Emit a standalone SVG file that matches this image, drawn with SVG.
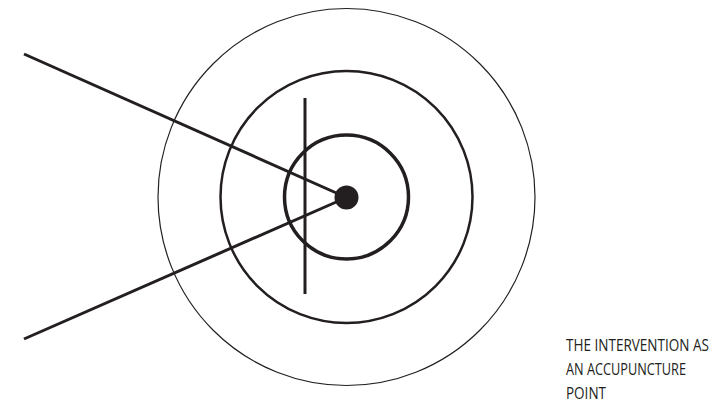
<svg xmlns="http://www.w3.org/2000/svg" width="728" height="408" viewBox="0 0 728 408">
<style>
.c{fill:none;stroke:#231f20}
.l{stroke:#231f20;stroke-width:3;stroke-linecap:butt}
.t{font-family:"Open Sans","Noto Sans",sans-serif;font-size:17px;fill:#231f20}
</style>
<rect width="728" height="408" fill="#fff"/>
<g id="outer"><circle class="c" cx="346.5" cy="197" r="188.5" stroke-width="1.2"/></g>
<g id="middle"><circle class="c" cx="346.5" cy="197" r="126" stroke-width="2.5"/></g>
<g id="inner"><circle class="c" cx="346.5" cy="197" r="62" stroke-width="3.5"/></g>
<g id="connectors">
<line class="l" x1="24" y1="54" x2="346.5" y2="197.5"/>
<line class="l" x1="24" y1="339" x2="346.5" y2="197.5"/>
<line class="l" x1="305" y1="98" x2="305" y2="294" stroke-width="2.5"/>
</g>
<g id="point"><circle cx="346.5" cy="197.5" r="12" fill="#231f20"/></g>
<g id="label">
<text class="t" x="566" y="351" textLength="143" lengthAdjust="spacingAndGlyphs">THE INTERVENTION AS</text>
<text class="t" x="566" y="375" textLength="120" lengthAdjust="spacingAndGlyphs">AN ACCUPUNCTURE</text>
<text class="t" x="566" y="399" textLength="40" lengthAdjust="spacingAndGlyphs">POINT</text>
</g>
</svg>
